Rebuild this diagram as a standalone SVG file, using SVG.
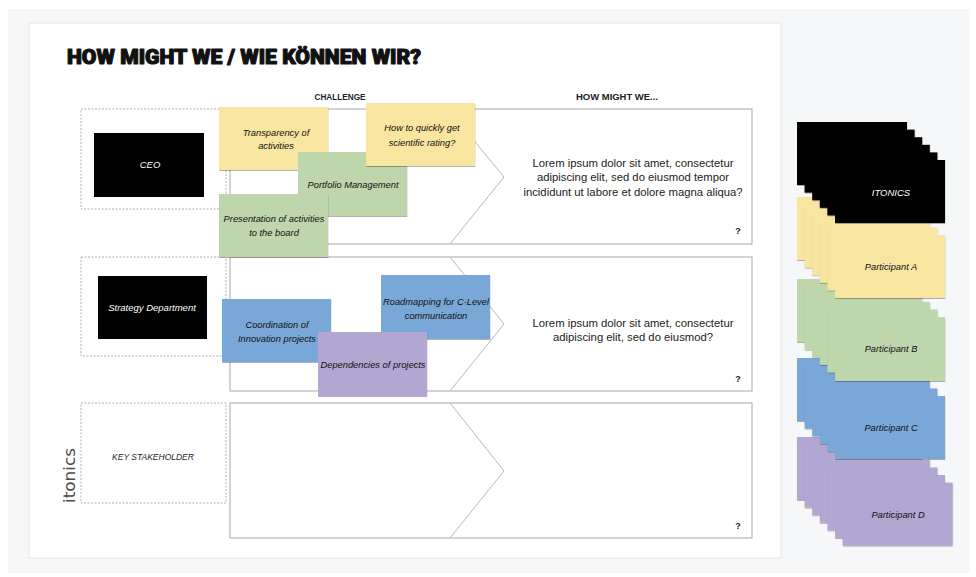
<svg xmlns="http://www.w3.org/2000/svg" width="976" height="577" viewBox="0 0 976 577">
<defs>
<filter id="sh" x="-10%" y="-10%" width="120%" height="130%">
<feDropShadow dx="0.3" dy="1" stdDeviation="0.7" flood-color="#000" flood-opacity="0.3"/>
</filter>
<style>
.dash{fill:none;stroke:#b0b0b0;stroke-width:1;stroke-dasharray:2 1.5}
.frame{fill:#fff;stroke:#a8a8a8;stroke-width:1}
.chev{fill:none;stroke:#b8b8b8;stroke-width:1}
.role{fill:#000}
.note rect{filter:url(#sh)}
.y{fill:#f8e5a0}
.g{fill:#bdd6ac}
.b{fill:#79a8d8}
.p{fill:#b2a7d2}
.k{fill:#000}
.hand{font-family:"Liberation Sans",Arial,sans-serif;font-style:italic;font-size:9.3px;fill:#111;text-anchor:middle}
.handw{font-family:"Liberation Sans",Arial,sans-serif;font-style:italic;font-size:9.5px;fill:#fff;text-anchor:middle}
.hdr{font-family:"Liberation Sans",Arial,sans-serif;font-weight:bold;font-size:8.5px;fill:#222;text-anchor:middle}
.lorem{font-family:"Liberation Sans",Arial,sans-serif;font-size:11.3px;fill:#222;text-anchor:middle}
.q{font-family:"Liberation Sans",Arial,sans-serif;font-weight:bold;font-size:9px;fill:#222;text-anchor:middle}
</style>
</defs>
<rect x="0" y="0" width="976" height="577" fill="#ffffff"/>
<rect x="8" y="9" width="962" height="564" fill="#f6f7f9"/>
<rect x="29" y="23" width="752" height="535" fill="#ffffff" stroke="#e6e6e6" stroke-width="1"/>

<text x="67" y="64" font-family="Roboto,Inter,'Liberation Sans',sans-serif" font-weight="900" font-size="20" fill="#111" stroke="#111" stroke-width="1.1" stroke-linejoin="round" textLength="354" lengthAdjust="spacingAndGlyphs">HOW MIGHT WE / WIE KÖNNEN WIR?</text>
<text class="hdr" x="340" y="100" textLength="51" lengthAdjust="spacingAndGlyphs">CHALLENGE</text>
<text class="hdr" x="617" y="100" textLength="82" lengthAdjust="spacingAndGlyphs">HOW MIGHT WE...</text>

<g id="row1">
<rect class="dash" x="81" y="109" width="145" height="100"/>
<rect class="frame" x="230" y="109" width="522" height="135"/>
<polyline class="chev" points="448,109 504,177 450,244"/>
<text class="lorem" x="633" y="167">Lorem ipsum dolor sit amet, consectetur</text>
<text class="lorem" x="633" y="181">adipiscing elit, sed do eiusmod tempor</text>
<text class="lorem" x="633" y="196">incididunt ut labore et dolore magna aliqua?</text>
<text class="q" x="738" y="234">?</text>
</g>
<g id="row2">
<rect class="dash" x="81" y="257" width="145" height="99"/>
<rect class="frame" x="230" y="257" width="522" height="134"/>
<polyline class="chev" points="450,257 504,324 450,391"/>
<text class="lorem" x="633" y="327">Lorem ipsum dolor sit amet, consectetur</text>
<text class="lorem" x="633" y="341">adipiscing elit, sed do eiusmod?</text>
<text class="q" x="738" y="382">?</text>
</g>
<g id="row3">
<rect class="dash" x="81" y="403" width="145" height="100"/>
<rect class="frame" x="230" y="403" width="522" height="135"/>
<polyline class="chev" points="450,403 504,471 450,538"/>
<text class="q" x="738" y="529">?</text>
<text x="153" y="460" font-family="'Liberation Sans',Arial,sans-serif" font-style="italic" font-size="8.5" fill="#222" text-anchor="middle">KEY STAKEHOLDER</text>
</g>

<g id="logo">
<text x="0" y="0" transform="translate(75,503) rotate(-90)" font-family="'DejaVu Sans',sans-serif" font-size="16" fill="#4a4a4a" textLength="55" lengthAdjust="spacingAndGlyphs">itonics</text>
</g>

<g id="ceo">
<rect class="role" x="94" y="133" width="110" height="64"/>
<text class="handw" x="150" y="168">CEO</text>
</g>
<g id="strategy">
<rect class="role" x="98" y="276" width="109" height="63"/>
<text class="handw" x="152" y="311">Strategy Department</text>
</g>

<g id="n-transparency" class="note">
<rect class="y" x="219" y="107" width="109" height="63"/>
<text class="hand" x="276" y="136">Transparency of</text>
<text class="hand" x="276" y="149">activities</text>
</g>
<g id="n-portfolio" class="note">
<rect class="g" x="298" y="152" width="109" height="64"/>
<text class="hand" x="353" y="188">Portfolio Management</text>
</g>
<g id="n-howto" class="note">
<rect class="y" x="366" y="103" width="109" height="63"/>
<text class="hand" x="422" y="131">How to quickly get</text>
<text class="hand" x="422" y="146">scientific rating?</text>
</g>
<g id="n-presentation" class="note">
<rect class="g" x="219" y="194" width="109" height="63"/>
<text class="hand" x="274" y="222">Presentation of activities</text>
<text class="hand" x="274" y="236">to the board</text>
</g>
<g id="n-roadmapping" class="note">
<rect class="b" x="381" y="275" width="109" height="64"/>
<text class="hand" x="436" y="305">Roadmapping for C-Level</text>
<text class="hand" x="436" y="319">communication</text>
</g>
<g id="n-coordination" class="note">
<rect class="b" x="222" y="299" width="109" height="63"/>
<text class="hand" x="277" y="328">Coordination of</text>
<text class="hand" x="277" y="342">Innovation projects</text>
</g>
<g id="n-dependencies" class="note">
<rect class="p" x="318" y="332" width="109" height="64"/>
<text class="hand" x="373" y="368">Dependencies of projects</text>
</g>

<g id="stack-d" class="note">
<rect class="p" x="797" y="437" width="110" height="63"/>
<rect class="p" x="804.6" y="444.6" width="110" height="63"/>
<rect class="p" x="812.2" y="452.2" width="110" height="63"/>
<rect class="p" x="819.8" y="459.8" width="110" height="63"/>
<rect class="p" x="827.4" y="467.4" width="110" height="63"/>
<rect class="p" x="835" y="475" width="110" height="63"/>
<rect class="p" x="842.6" y="482.6" width="110" height="63"/>
<text class="hand" x="898" y="518">Participant D</text>
</g>
<g id="stack-c" class="note">
<rect class="b" x="797" y="358" width="110" height="63"/>
<rect class="b" x="804.6" y="365.6" width="110" height="63"/>
<rect class="b" x="812.2" y="373.2" width="110" height="63"/>
<rect class="b" x="819.8" y="380.8" width="110" height="63"/>
<rect class="b" x="827.4" y="388.4" width="110" height="63"/>
<rect class="b" x="835" y="396" width="110" height="63"/>
<text class="hand" x="891" y="431">Participant C</text>
</g>
<g id="stack-b" class="note">
<rect class="g" x="797" y="279" width="110" height="63"/>
<rect class="g" x="804.6" y="286.6" width="110" height="63"/>
<rect class="g" x="812.2" y="294.2" width="110" height="63"/>
<rect class="g" x="819.8" y="301.8" width="110" height="63"/>
<rect class="g" x="827.4" y="309.4" width="110" height="63"/>
<rect class="g" x="835" y="317" width="110" height="64"/>
<text class="hand" x="891" y="352">Participant B</text>
</g>
<g id="stack-a" class="note">
<rect class="y" x="797" y="197" width="110" height="63"/>
<rect class="y" x="804.6" y="204.6" width="110" height="63"/>
<rect class="y" x="812.2" y="212.2" width="110" height="63"/>
<rect class="y" x="819.8" y="219.8" width="110" height="63"/>
<rect class="y" x="827.4" y="227.4" width="110" height="63"/>
<rect class="y" x="835" y="235" width="110" height="63"/>
<text class="hand" x="891" y="270">Participant A</text>
</g>
<g id="stack-itonics" class="note">
<rect class="k" x="797" y="122" width="110" height="63"/>
<rect class="k" x="804.6" y="129.6" width="110" height="63"/>
<rect class="k" x="812.2" y="137.2" width="110" height="63"/>
<rect class="k" x="819.8" y="144.8" width="110" height="63"/>
<rect class="k" x="827.4" y="152.4" width="110" height="63"/>
<rect class="k" x="835" y="160" width="110" height="63"/>
<text class="handw" x="891" y="196">ITONICS</text>
</g>

<g id="connectors"/>
</svg>
